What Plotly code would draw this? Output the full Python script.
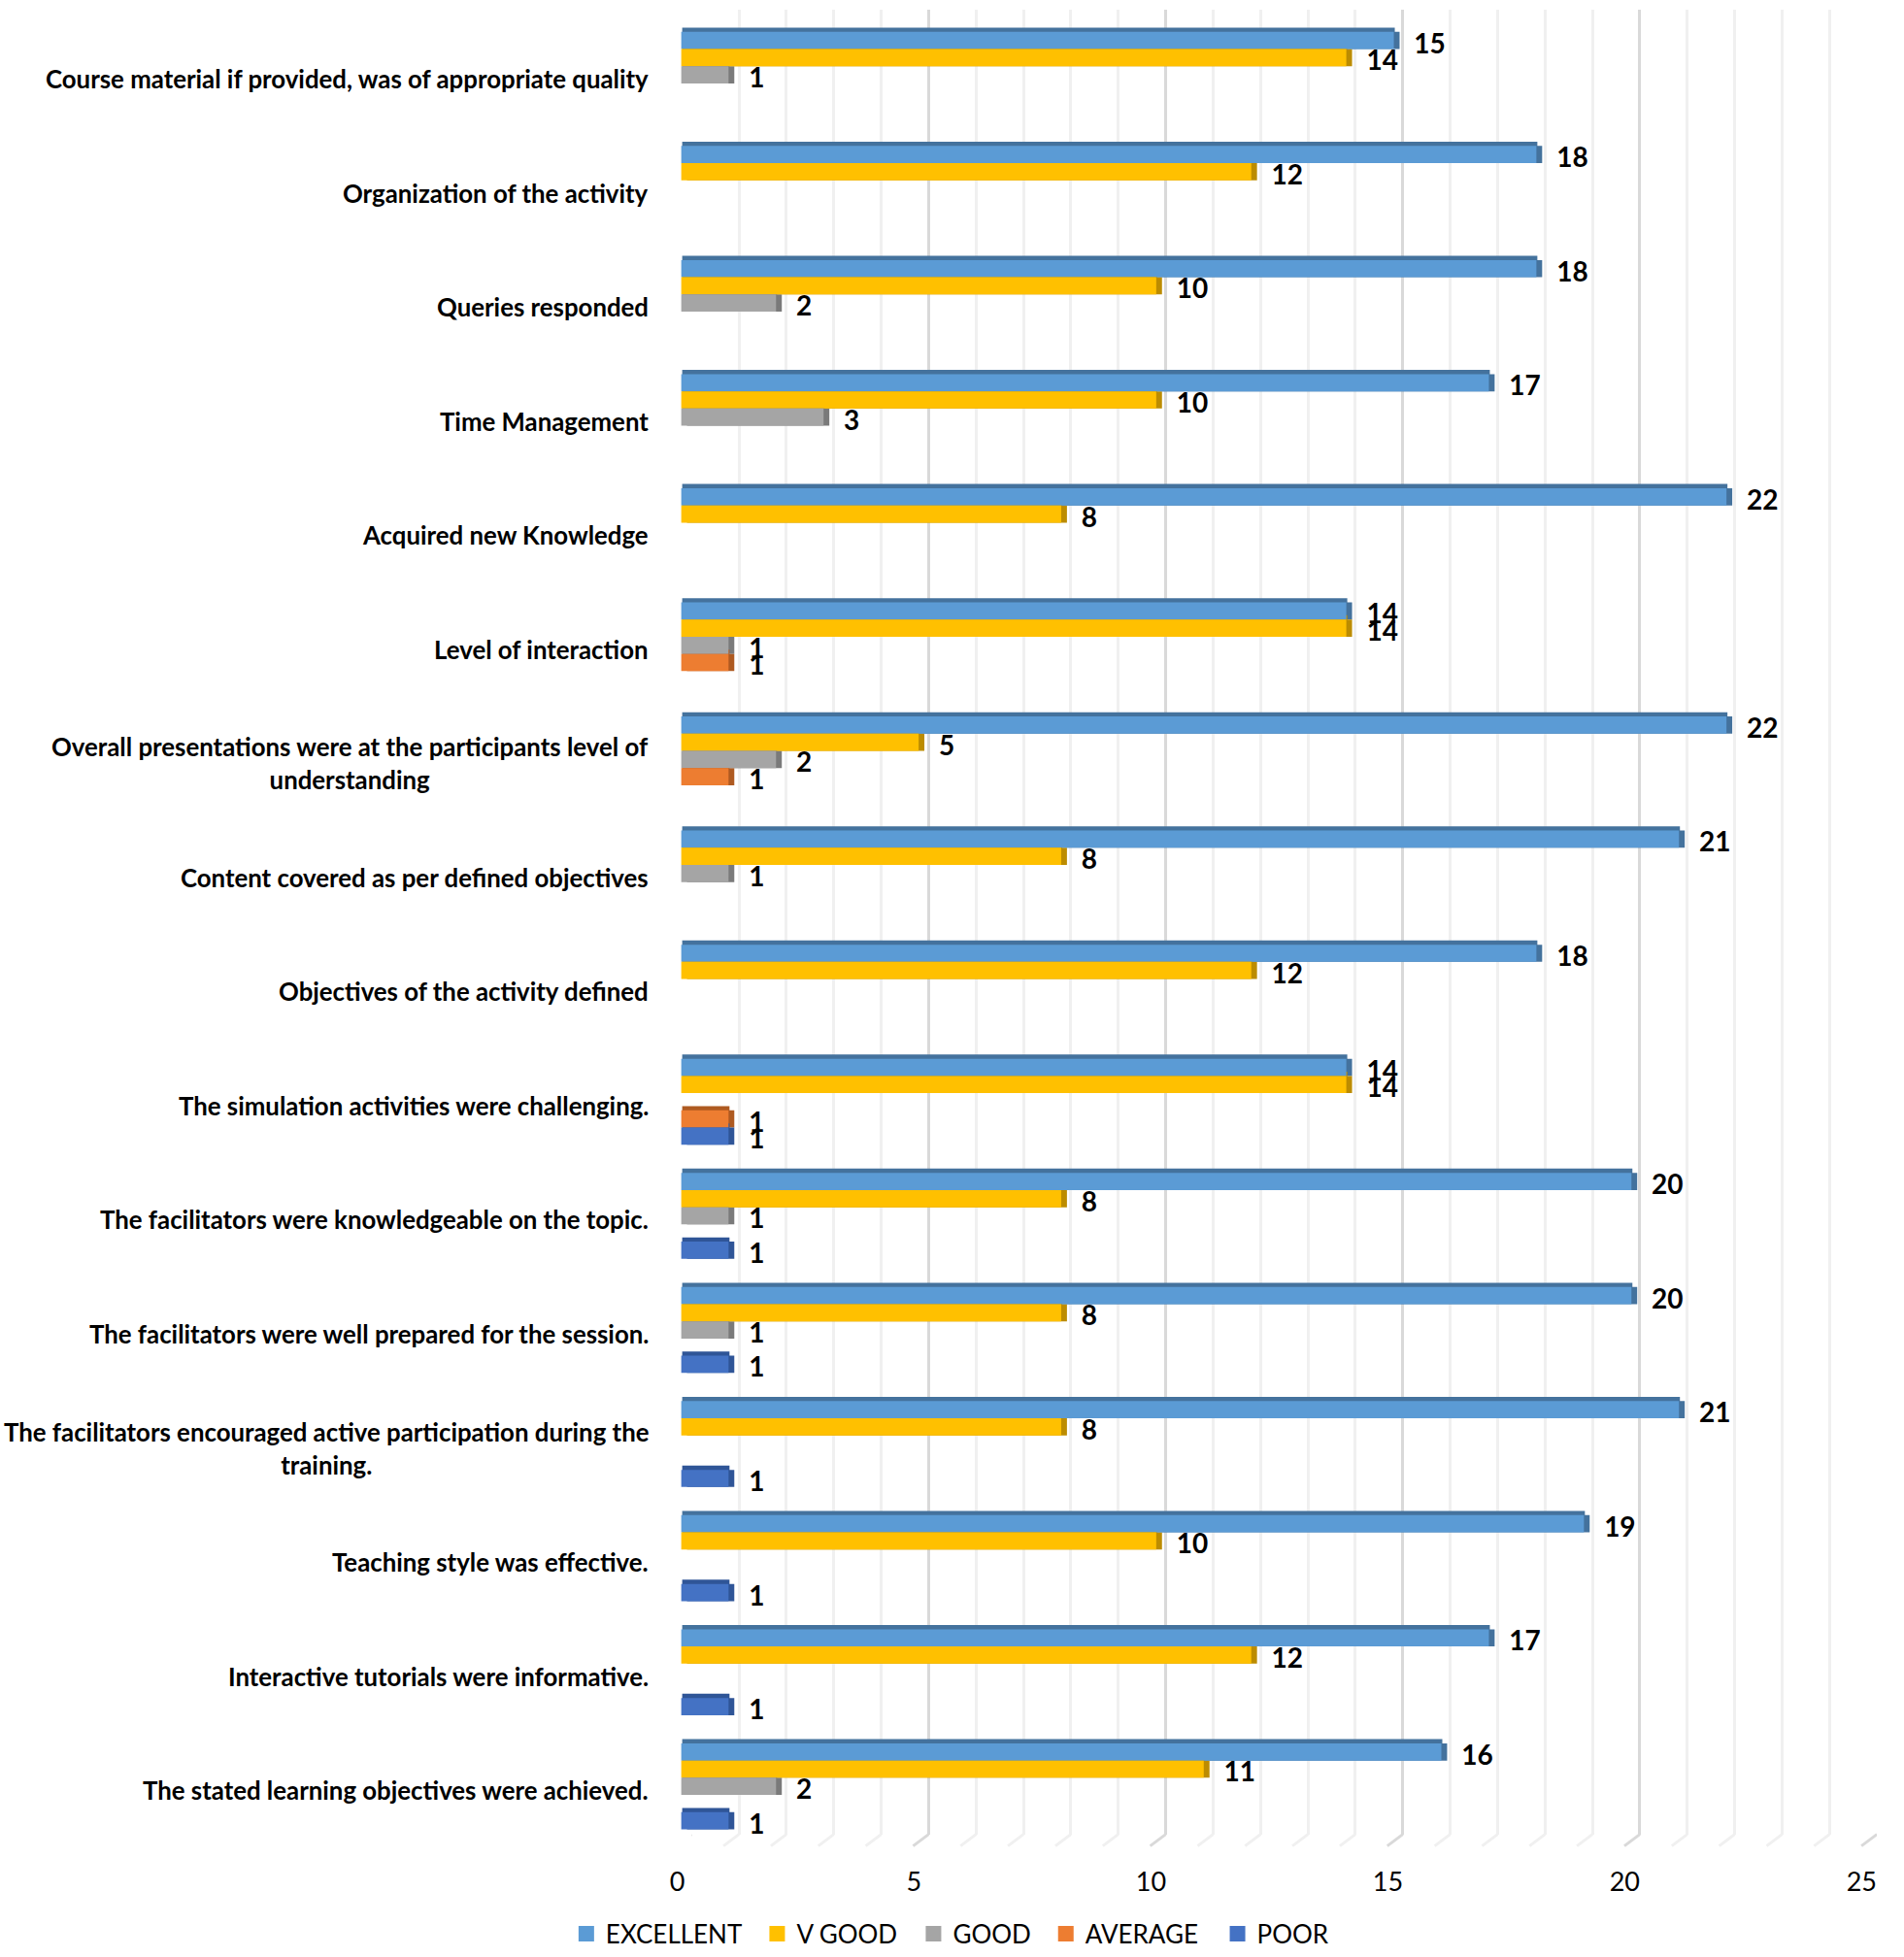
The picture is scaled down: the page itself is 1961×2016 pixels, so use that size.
import plotly.graph_objects as go

categories = [
    "Course material if provided, was of appropriate quality",
    "Organization of the activity",
    "Queries responded",
    "Time Management",
    "Acquired new Knowledge",
    "Level of interaction",
    "Overall presentations were at the participants level of<br>understanding",
    "Content covered as per defined objectives",
    "Objectives of the activity defined",
    "The simulation activities were challenging.",
    "The facilitators were knowledgeable on the topic.",
    "The facilitators were well prepared for the session.",
    "The facilitators encouraged active participation during the<br>training.",
    "Teaching style was effective.",
    "Interactive tutorials were informative.",
    "The stated learning objectives were achieved.",
]
excellent = [15, 18, 18, 17, 22, 14, 22, 21, 18, 14, 20, 20, 21, 19, 17, 16]
v_good = [14, 12, 10, 10, 8, 14, 5, 8, 12, 14, 8, 8, 8, 10, 12, 11]
good = [1, None, 2, 3, None, 1, 2, 1, None, None, 1, 1, None, None, None, 2]
average = [None, None, None, None, None, 1, 1, None, None, 1, None, None, None, None, None, None]
poor = [None, None, None, None, None, None, None, None, None, 1, 1, 1, 1, 1, 1, 1]
series_names = ["EXCELLENT", "V GOOD", "GOOD", "AVERAGE", "POOR"]
series_values = [excellent, v_good, good, average, poor]
face_colors = ["#5B9BD5", "#FFC000", "#A5A5A5", "#ED7D31", "#4472C4"]
edge_colors = ["#44729D", "#BC8C00", "#7A7A7A", "#AE5A21", "#2F5597"]
legend_swatch_px = [600, 799, 962, 1100, 1279]
grid_ticks = list(range(26))

W, H = 1961, 2016
FONT = "Lato"
SCALE = 49.55


def xdom(a, b):
    return [a / W, b / W]


def ydom(top, bottom):
    return [1 - bottom / H, 1 - top / H]


fig = go.Figure()
n = len(categories)
cat_axis = dict(type="category", categoryorder="array", categoryarray=categories,
                range=[n - 0.5, -0.5], visible=False)
val_range = [0, 25]

# wall / gridlines subplot
fig.add_trace(go.Scatter(x=[None], y=[None], xaxis="x", yaxis="y", showlegend=False, hoverinfo="skip"))

# side of each bar, then its top, then the face, then the value labels
for vals, ec in zip(series_values, edge_colors):
    fig.add_trace(go.Bar(y=categories, x=vals, orientation="h", xaxis="x2", yaxis="y2",
                         marker=dict(color=ec, line_width=0), showlegend=False, hoverinfo="skip"))
for vals, ec in zip(series_values, edge_colors):
    fig.add_trace(go.Bar(y=categories, x=vals, orientation="h", xaxis="x3", yaxis="y3",
                         marker=dict(color=ec, line_width=0), showlegend=False, hoverinfo="skip"))
for name, vals, fc in zip(series_names, series_values, face_colors):
    fig.add_trace(go.Bar(y=categories, x=vals, orientation="h", xaxis="x4", yaxis="y4", name=name,
                         marker=dict(color=fc, line_width=0), showlegend=False))
for name, vals in zip(series_names, series_values):
    fig.add_trace(go.Bar(y=categories, x=vals, orientation="h", xaxis="x5", yaxis="y5",
                         marker=dict(color="rgba(0,0,0,0)", line_width=0), showlegend=False, hoverinfo="skip",
                         text=vals, textposition="outside", cliponaxis=False, constraintext="none",
                         textfont=dict(family=FONT, size=28, color="#000000", weight="bold")))

# tick-label axis and one legend per series, so each sits where the original has it
fig.add_trace(go.Scatter(x=[None], y=[None], xaxis="x6", yaxis="y", showlegend=False, hoverinfo="skip"))
legends = {}
for i, (name, fc, px) in enumerate(zip(series_names, face_colors, legend_swatch_px)):
    key = "legend" if i == 0 else f"legend{i + 1}"
    fig.add_trace(go.Scatter(x=[None], y=[None], xaxis="x6", yaxis="y", mode="markers", name=name,
                             marker=dict(symbol="square", size=16, color=fc), legend=key, hoverinfo="skip"))
    legends[key] = dict(x=(px - 17) / W, y=1 - 2003 / H, xanchor="left", yanchor="middle",
                        font=dict(family=FONT, size=26, color="#000000"), bgcolor="rgba(0,0,0,0)")

shapes = [dict(type="line", xref="x", yref="paper", xsizemode="pixel", ysizemode="pixel",
               xanchor=k, yanchor=1 - 1900 / H, x0=0, x1=-16, y0=0, y1=-12,
               line=dict(color="#D9D9D9" if k % 5 == 0 else "#F0F0F0", width=3), layer="below")
          for k in grid_ticks]

annotations = [dict(text=c, xref="paper", yref="y4", x=670 / W, y=c, xanchor="right", align="center",
                    yshift=-4, showarrow=False,
                    font=dict(family=FONT, size=25.8, color="#000000", weight="bold"))
               for c in categories]

fig.update_layout(
    width=W, height=H, autosize=False,
    margin=dict(l=0, r=0, t=0, b=0),
    paper_bgcolor="white", plot_bgcolor="rgba(0,0,0,0)",
    barmode="group", bargap=0.247, bargroupgap=0,
    font=dict(family=FONT),
    shapes=shapes, annotations=annotations,
    xaxis=dict(domain=xdom(713, 1949), range=val_range, anchor="y", dtick=5, showgrid=True,
               gridcolor="#D9D9D9", gridwidth=3, showticklabels=False, ticks="", zeroline=False,
               minor=dict(dtick=1, showgrid=True, gridcolor="#F0F0F0", gridwidth=3)),
    yaxis=dict(domain=ydom(10, 1900), range=[0, 1], visible=False, anchor="x"),
    xaxis2=dict(domain=xdom(708, 708 + 25 * SCALE), range=val_range, anchor="y2", visible=False),
    yaxis2=dict(domain=ydom(18.4, 1909.4), anchor="x2", **cat_axis),
    xaxis3=dict(domain=xdom(703, 703 + 25 * SCALE), range=val_range, anchor="y3", visible=False),
    yaxis3=dict(domain=ydom(14, 1905), anchor="x3", **cat_axis),
    xaxis4=dict(domain=xdom(702, 702 + 25 * SCALE), range=val_range, anchor="y4", visible=False),
    yaxis4=dict(domain=ydom(18.4, 1909.4), anchor="x4", **cat_axis),
    xaxis5=dict(domain=xdom(720, 720 + 25 * SCALE), range=val_range, anchor="y5", visible=False),
    yaxis5=dict(domain=ydom(20.4, 1911.4), anchor="x5", **cat_axis),
    xaxis6=dict(domain=xdom(698, 1933), range=val_range, anchor="y", dtick=5, showgrid=False,
                zeroline=False, ticks="outside", ticklen=25, tickcolor="rgba(0,0,0,0)",
                tickfont=dict(family=FONT, size=27, color="#000000")),
    **legends,
)

fig.write_html("out.html", config={"displayModeBar": False},
               post_script='document.body.style.margin="0";')
